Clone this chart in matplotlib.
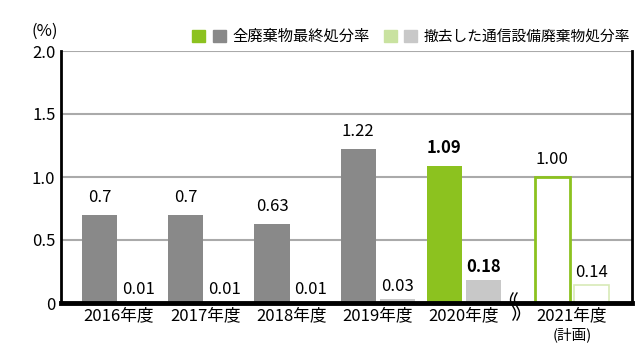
import numpy as np
import matplotlib.pyplot as plt
from matplotlib.patches import Rectangle
from matplotlib.lines import Line2D

plt.rcParams['font.family'] = ['Noto Sans CJK JP', 'DejaVu Sans']

years = ['2016年度', '2017年度', '2018年度', '2019年度', '2020年度', '2021年度']
all_rate = [0.7, 0.7, 0.63, 1.22, 1.09, 1.00]
removed_rate = [0.01, 0.01, 0.01, 0.03, 0.18, 0.14]
all_labels = ['0.7', '0.7', '0.63', '1.22', '1.09', '1.00']
removed_labels = ['0.01', '0.01', '0.01', '0.03', '0.18', '0.14']
series_names = ['全廃棄物最終処分率', '撤去した通信設備廃棄物処分率']

GREEN = '#8cc21f'
GRAY = '#898989'
LGREEN = '#c9e2a0'
LGRAY = '#c8c8c8'

W, H = 640, 364


def px(x, y):
    # pixel (from top-left) -> figure fraction
    return x / W, 1 - y / H


fig = plt.figure(figsize=(W / 100, H / 100), dpi=100)
ax = fig.add_axes([61 / W, 1 - 303 / H, (632 - 61) / W, (303 - 51) / H])

# group positions (2021 shifted right past the break mark)
groups = np.array([0, 1, 2, 3, 4, 5.25])
bw = 0.406
x1 = groups + 0.203
x2 = groups + 0.655
centers = groups + 0.429

c1 = [GRAY] * 4 + [GREEN, 'white']
c2 = [LGRAY] * 5 + ['white']
bars1 = ax.bar(x1, all_rate, bw, color=c1, zorder=2)
bars2 = ax.bar(x2, removed_rate, bw, color=c2, zorder=2)
bars1[5].set_edgecolor(GREEN)
bars1[5].set_linewidth(2)
bars2[5].set_edgecolor('#d8eab8')
bars2[5].set_linewidth(1.2)

for i in range(len(years)):
    w = 'bold' if i == 4 else 'normal'
    ax.annotate(all_labels[i], (x1[i], all_rate[i]), xytext=(0, 9),
                textcoords='offset pixels', ha='center', va='bottom',
                fontsize=12, weight=w)
    ax.annotate(removed_labels[i], (x2[i], removed_rate[i]), xytext=(0, 4),
                textcoords='offset pixels', ha='center', va='bottom',
                fontsize=12, weight=w)

ax.set_xlim(-0.2435, 6.377)
ax.set_ylim(0, 2.0)
ax.set_yticks([0, 0.5, 1.0, 1.5, 2.0], ['0', '0.5', '1.0', '1.5', '2.0'])
ax.set_xticks(centers, years)
ax.tick_params(axis='both', length=0, labelsize=12)
ax.tick_params(axis='y', pad=4)
ax.tick_params(axis='x', pad=3)
ax.text(centers[5], -0.128, '(計画)', transform=ax.get_xaxis_transform(),
        ha='center', va='center', fontsize=10.5)

ax.yaxis.grid(True, color='#aaaaaa', lw=1.5)
ax.set_axisbelow(True)
ax.spines['top'].set_visible(False)
ax.spines['left'].set_linewidth(2)
ax.spines['right'].set_linewidth(2)
ax.spines['bottom'].set_linewidth(3.5)
ax.spines['bottom'].set_zorder(3)

fig.text(*px(45, 31), '(%)', ha='center', va='center', fontsize=12)

# break mark on the x axis
u = np.linspace(0, 1, 40)
for x0 in (513, 517):
    xs = x0 - 2.5 * np.sin(2 * np.pi * u)
    ys = 293 + 27 * u
    fig.add_artist(Line2D(xs / W, 1 - ys / H, color='black', lw=1.0))

# legend
for (xa, col) in [(192, GREEN), (213, GRAY), (384, LGREEN), (404, LGRAY)]:
    fx, fy = px(xa, 42)
    fig.add_artist(Rectangle((fx, fy), 13 / W, 12 / H, color=col,
                             transform=fig.transFigure))
fig.text(*px(232, 36.5), series_names[0], ha='left', va='center', fontsize=11)
fig.text(*px(424, 36.5), series_names[1], ha='left', va='center', fontsize=10.6)

fig.savefig('out.png', dpi=100)
